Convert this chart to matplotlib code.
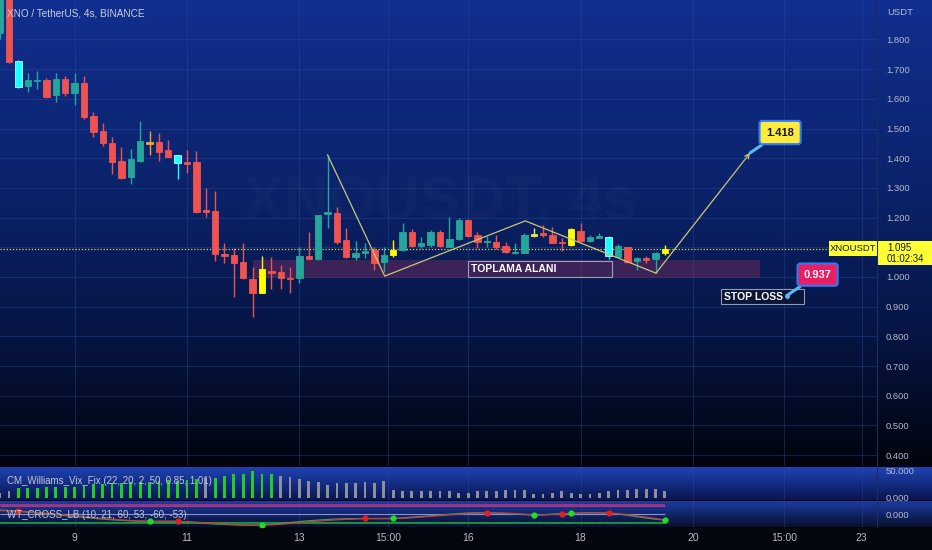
import numpy as np
import matplotlib.pyplot as plt
from matplotlib.patches import Rectangle
from matplotlib.lines import Line2D
from matplotlib.colors import to_rgb

plt.rcParams['font.family'] = ['Liberation Sans', 'DejaVu Sans']

W, H = 932, 550

# --- velas de 4 horas XNO/USDT (indice -1 .. 70)
opens = [1.822, 1.950, 1.727, 1.643, 1.660, 1.663, 1.613, 1.667, 1.620, 1.653,
         1.542, 1.492, 1.451, 1.391, 1.337, 1.391, 1.455, 1.455, 1.428, 1.411,
         1.387, 1.387, 1.226, 1.222, 1.077, 1.074, 1.051, 0.993, 0.946, 1.020,
         1.017, 0.997, 0.997, 1.071, 1.061, 1.212, 1.215, 1.125, 1.067, 1.081,
         1.091, 1.051, 1.074, 1.091, 1.152, 1.104, 1.108, 1.152, 1.101, 1.128,
         1.192, 1.141, 1.118, 1.118, 1.104, 1.081, 1.081, 1.138, 1.148, 1.141,
         1.118, 1.108, 1.155, 1.121, 1.131, 1.135, 1.067, 1.101, 1.054, 1.064,
         1.061, 1.081]
highs = [1.960, 1.960, 1.730, 1.687, 1.693, 1.670, 1.687, 1.677, 1.687, 1.677,
         1.556, 1.519, 1.471, 1.438, 1.431, 1.525, 1.492, 1.485, 1.461, 1.411,
         1.428, 1.424, 1.300, 1.290, 1.114, 1.098, 1.114, 1.034, 1.071, 1.067,
         1.040, 1.034, 1.101, 1.152, 1.209, 1.411, 1.236, 1.165, 1.121, 1.114,
         1.101, 1.101, 1.125, 1.182, 1.162, 1.135, 1.158, 1.158, 1.202, 1.199,
         1.195, 1.152, 1.138, 1.141, 1.118, 1.114, 1.148, 1.165, 1.175, 1.168,
         1.131, 1.165, 1.182, 1.141, 1.148, 1.138, 1.111, 1.101, 1.067, 1.071,
         1.084, 1.108]
lows = [1.800, 1.720, 1.636, 1.623, 1.633, 1.603, 1.589, 1.609, 1.579, 1.532,
        1.471, 1.441, 1.347, 1.330, 1.313, 1.387, 1.411, 1.391, 1.404, 1.330,
        1.350, 1.215, 1.202, 1.054, 1.047, 0.933, 0.993, 0.865, 0.946, 0.960,
        0.960, 0.946, 0.980, 1.061, 1.057, 1.165, 1.111, 1.064, 1.057, 1.064,
        1.024, 1.017, 1.067, 1.088, 1.101, 1.098, 1.101, 1.101, 1.101, 1.125,
        1.135, 1.098, 1.101, 1.094, 1.081, 1.077, 1.081, 1.135, 1.135, 1.114,
        1.088, 1.104, 1.118, 1.118, 1.131, 1.061, 1.067, 1.047, 1.024, 1.047,
        1.013, 1.074]
closes = [1.950, 1.724, 1.640, 1.663, 1.661, 1.606, 1.667, 1.620, 1.653, 1.539,
          1.488, 1.451, 1.387, 1.333, 1.397, 1.458, 1.448, 1.421, 1.404, 1.384,
          1.380, 1.219, 1.219, 1.077, 1.071, 1.047, 0.997, 0.946, 1.027, 1.013,
          0.997, 0.993, 1.071, 1.061, 1.209, 1.219, 1.118, 1.067, 1.081, 1.088,
          1.047, 1.074, 1.091, 1.152, 1.104, 1.114, 1.152, 1.104, 1.128, 1.192,
          1.138, 1.118, 1.121, 1.101, 1.084, 1.084, 1.141, 1.145, 1.141, 1.114,
          1.114, 1.162, 1.121, 1.135, 1.138, 1.071, 1.104, 1.051, 1.064, 1.057,
          1.081, 1.094]
idx = np.arange(-1, len(opens) - 1)

# velas marcadas por el indicador (color especial)
special = {1: '#18ffff', 15: '#f5a623', 18: '#18ffff', 27: '#ffff00', 41: '#ffff00',
           56: '#e6e65a', 60: '#ffff00', 64: '#18ffff', 70: '#ffff00'}

# CM_Williams_Vix_Fix
vix = [7.7, 12, 18, 18, 18, 19, 19, 19, 19, 21, 25, 25, 27, 27, 28.6, 28.6, 28.6, 30,
       31, 30, 31, 33, 35, 36, 39, 43, 42, 49, 43, 43, 39, 37, 33, 30, 29, 23, 26, 27,
       27, 29, 27, 30, 14, 12, 12, 12, 11, 12, 11, 9, 9, 12, 12, 12, 13, 13, 13, 6, 7,
       9, 11, 9, 7, 7, 8, 12, 13, 13, 16, 15, 16, 11]
vix_green = [i for i in range(1, 29) if i != 21]

# WT_CROSS_LB
wt1 = [28, 24, 19, 13, 7, 1, -5, -11, -17, -23, -29, -35, -40, -44, -47, -50, -51, -50,
       -50, -51, -55, -60, -65, -69, -72, -75, -77, -78, -76, -71, -65, -59, -53, -47,
       -42, -38, -35, -33, -32, -31, -32, -32, -31, -27, -22, -17, -12, -7, -2, 3, 7, 9,
       9, 7, 3, -1, -4, -7, -5, -1, 2, 4, 7, 9, 8, 6, 0, -9, -19, -28, -36, -42]
wt2 = [24, 22, 19, 15, 10, 5, -1, -7, -13, -19, -25, -31, -36, -41, -45, -48, -51, -52,
       -52, -51, -53, -57, -61, -65, -69, -72, -74, -76, -76, -75, -71, -66, -60, -54,
       -49, -44, -40, -37, -34, -31, -31, -31, -31, -30, -26, -21, -16, -11, -6, -2, 3,
       6, 9, 8, 6, 3, -1, -7, -6, -3, 2, 4, 5, 7, 8, 6, 3, -4, -13, -22, -31, -42]
cross_idx = [1, 15, 18, 27, 38, 41, 51, 56, 59, 60, 64, 70]
wt_levels = [60, 53, 0, -53, -60]

last_price = 1.095
price_ticks = [0.4, 0.5, 0.6, 0.7, 0.8, 0.9, 1.0, 1.2, 1.3, 1.4, 1.5, 1.6, 1.7, 1.8]
grid_prices = [0.4, 0.5, 0.6, 0.7, 0.8, 0.9, 1.0, 1.1, 1.2, 1.3, 1.4, 1.5, 1.6, 1.7, 1.8]
time_ticks = [7, 19, 31, 40.5, 49, 61, 73, 82.7, 91]
time_labels = ['9', '11', '13', '15:00', '16', '18', '20', '15:00', '23']

# dibujos del analista
zz_x = [34, 40.1, 55.1, 69.05, 79.1]
zz_p = [1.411, 1.003, 1.189, 1.013, 1.418]
zone_x = (26.0, 80.1)
zone_p = (0.997, 1.057)
target = 1.418
stop = 0.937

RED, TEAL = '#ef5350', '#26a69a'
GRID = '#2a4a9e'
TXT = '#b4bacc'


def lerp(c1, c2, n):
    a = np.array(to_rgb(c1))
    b = np.array(to_rgb(c2))
    t = np.linspace(0, 1, n)[:, None]
    return a + (b - a) * t


fig = plt.figure(figsize=(W / 100, H / 100), dpi=100)

# fondo degradado (precio, paneles, eje de tiempo)
rows = np.vstack([
    lerp('#112f90', '#0b2268', 200),
    lerp('#0b2268', '#061545', 130),
    lerp('#061545', '#01040c', 136),
    lerp('#000000', '#000000', 1),
    lerp('#1e42b4', '#0a1650', 33),
    lerp('#02040c', '#02040c', 1),
    lerp('#1b3ba2', '#07102e', 26),
    lerp('#04060e', '#04060e', 23),
])
bg = fig.add_axes([0, 0, 1, 1])
bg.imshow(rows[:, None, :], extent=[0, 1, 0, 1], aspect='auto', interpolation='nearest')
bg.axis('off')

aw = 877 / W
ax = fig.add_axes([0, 1 - 466 / H, aw, 466 / H])
ax1 = fig.add_axes([0, 1 - 500 / H, aw, 33 / H], sharex=ax)
ax2 = fig.add_axes([0, 1 - 527 / H, aw, 26 / H], sharex=ax)

for a in (ax, ax1, ax2):
    a.set_facecolor('none')
    for s in a.spines.values():
        s.set_visible(False)
    a.yaxis.tick_right()
    a.tick_params(axis='y', length=0, pad=6.5, labelsize=6.8, labelcolor=TXT)
    a.tick_params(axis='x', length=0)
    for t in time_ticks:
        a.axvline(t, color=GRID, lw=0.8, alpha=0.4, zorder=0)

ax.set_xlim(-0.96, 92.64)
ax.set_xticks(time_ticks)
ax2.set_xticklabels(time_labels)
ax.tick_params(labelbottom=False)
ax1.tick_params(labelbottom=False)
ax2.tick_params(axis='x', pad=4, labelsize=7.5, labelcolor=TXT)

# --- panel de precio
ax.set_ylim(0.3636, 1.9327)
ax.set_yticks(price_ticks)
ax.set_yticklabels(['%.3f' % v for v in price_ticks])
for p in grid_prices:
    ax.axhline(p, color=GRID, lw=0.8, alpha=0.4, zorder=0)

ax.text(46, 1.245, 'XNOUSDT, 4s', fontsize=44, color='white', alpha=0.018,
        ha='center', va='center', fontweight='bold', zorder=0)

ax.add_patch(Rectangle((zone_x[0], zone_p[0]), zone_x[1] - zone_x[0], zone_p[1] - zone_p[0],
                       fc='#7a2c5c', ec='none', alpha=0.45, zorder=1))

cols = []
for i, o, c in zip(idx, opens, closes):
    cols.append(special.get(i, TEAL if c >= o else RED))
edges = ['#c8f6ff' if special.get(i) == '#18ffff' else col for i, col in zip(idx, cols)]
bottoms = np.minimum(opens, closes)
heights = np.maximum(np.abs(np.array(closes) - np.array(opens)), 0.004)
ax.vlines(idx, lows, highs, colors=cols, lw=1, zorder=2)
ax.bar(idx, heights, bottom=bottoms, width=0.68, color=cols, edgecolor=edges, lw=0.6, zorder=3)

ax.axhline(last_price, color='#d8d65a', lw=0.9, ls=(0, (1, 1.5)), zorder=2)

# zigzag + flecha al objetivo
ax.plot(zz_x[:-1], zz_p[:-1], color='#c9c777', lw=0.9, zorder=4)
ax.annotate('', xy=(zz_x[-1], zz_p[-1]), xytext=(zz_x[-2], zz_p[-2]),
            arrowprops=dict(arrowstyle='->', color='#c9c777', lw=0.9, shrinkA=0, shrinkB=0,
                            mutation_scale=8), zorder=4)

ax.annotate('1.418', xy=(zz_x[-1], target), xytext=(82.3, 1.4865), ha='center', va='center',
            fontsize=8, fontweight='bold', color='#131722',
            bbox=dict(boxstyle='round,pad=0.6,rounding_size=0.25', fc='#ffeb3b', ec='#2f7cf6', lw=1.5),
            arrowprops=dict(arrowstyle='-', color='#5ab8f2', lw=2.2, shrinkA=0, shrinkB=0), zorder=6)

# zona de acumulacion
ax.add_patch(Rectangle((49.0, 1.0), 15.4, 0.054, fc='none', ec='#9aa3b8', lw=0.8, zorder=5))
ax.text(49.3, 1.027, 'TOPLAMA ALANI', fontsize=7.5, fontweight='bold', color='white',
        va='center', zorder=6)

# stop loss
ax.add_patch(Rectangle((76.0, 0.909), 8.8, 0.051, fc='#0b1538', ec='#8f9ab3', lw=0.8, zorder=5))
ax.text(76.3, 0.934, 'STOP LOSS', fontsize=7.5, fontweight='bold', color='white',
        va='center', zorder=6)
ax.annotate('0.937', xy=(83.0, stop), xytext=(86.3, 1.008), ha='center', va='center',
            fontsize=8, fontweight='bold', color='white',
            bbox=dict(boxstyle='round,pad=0.55,rounding_size=0.25', fc='#e91e63', ec='#2f7cf6', lw=1.5),
            arrowprops=dict(arrowstyle='-', color='#5ab8f2', lw=2.2, shrinkA=0, shrinkB=0), zorder=6)
ax.plot(83.0, stop, 'o', ms=2.5, color='#5ab8f2', zorder=7)

# etiquetas de precio actual
ax.add_patch(Rectangle((87.5, 1.071), 92.64 - 87.5, 0.05, fc='#ffff33', ec='none', zorder=6))
ax.text(90.07, 1.097, 'XNOUSDT', fontsize=6.8, color='#131722', ha='center', va='center', zorder=7)
yt = ax.get_yaxis_transform()
ax.add_patch(Rectangle((1.0, 1.040), 55 / 877, 0.081, transform=yt, clip_on=False,
                       fc='#ffff33', ec='none', zorder=6))
ax.text(1.0114, 1.098, '%.3f' % last_price, transform=yt, fontsize=7, color='#131722',
        va='center', zorder=7)
ax.text(1.0114, 1.061, '01:02:34', transform=yt, fontsize=7, color='#131722',
        va='center', zorder=7)
ax.text(1.0114, 1.892, 'USDT', transform=yt, fontsize=6.8, color=TXT, va='center')

# --- panel Vix Fix
ax1.set_ylim(-4.5, 55.5)
ax1.set_yticks([0, 50])
ax1.set_yticklabels(['0.000', '50.000'])
vcols = ['#22cc22' if i in vix_green else '#8c909c' for i in idx]
ax1.bar(idx, vix, width=0.3, color=vcols, zorder=3)

# --- panel WT cross
ax2.set_ylim(-90, 90)
ax2.set_yticks([0])
ax2.set_yticklabels(['0.000'])
lvl_cols = ['#c0307a', '#9a3c8a', '#8c8cd8', '#2a7a3a', '#1f9a3a']
for lv, lc in zip(wt_levels, lvl_cols):
    ax2.hlines(lv, -0.96, idx[-1], colors=lc, lw=1.2 if abs(lv) == 60 else 0.8, zorder=1)
ax2.plot(idx, wt1, color='#3aa05a', lw=0.9, zorder=3)
ax2.plot(idx, wt2, color='#c04040', lw=0.9, zorder=3)
pos = {i: k for k, i in enumerate(idx)}
for n, ci in enumerate(cross_idx):
    ax2.plot(ci, wt2[pos[ci]], 'o', ms=3.5, color='#e02020' if n % 2 == 0 else '#22dd22', zorder=4)

fig.add_artist(Line2D([aw, aw], [1 - 527 / H, 1], color='#1c2d5e', lw=0.8))

fig.text(7 / W, 1 - 13 / H, 'XNO / TetherUS, 4s, BINANCE', fontsize=7.2, color='#c9cede', va='center')
fig.text(7 / W, 1 - 481 / H, 'CM_Williams_Vix_Fix (22, 20, 2, 50, 0.85, 1.01)', fontsize=7,
         color='#c0c6d6', va='center')
fig.text(7 / W, 1 - 515 / H, 'WT_CROSS_LB (10, 21, 60, 53, -60, -53)', fontsize=7,
         color='#c0c6d6', va='center')

fig.savefig('out.png', dpi=100)
